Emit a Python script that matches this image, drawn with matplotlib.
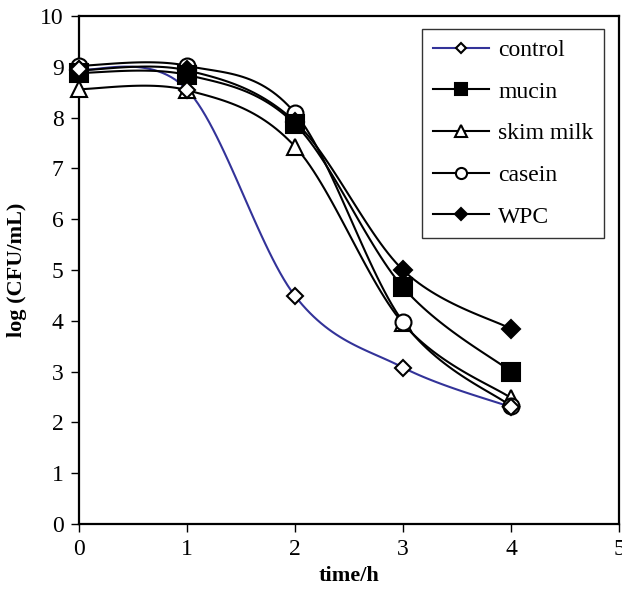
import matplotlib
matplotlib.use("Agg")
import matplotlib.pyplot as plt
import numpy as np

plt.rcParams["font.family"] = ["Liberation Serif", "DejaVu Serif"]

time_h = [0, 1, 2, 3, 4]
control = [8.95, 8.55, 4.49, 3.08, 2.3]
mucin = [8.88, 8.84, 7.87, 4.66, 3.0]
skim_milk = [8.56, 8.54, 7.43, 3.95, 2.48]
casein = [9.02, 9.02, 8.09, 3.98, 2.32]
wpc = [8.93, 8.93, 7.92, 5.0, 3.84]


def smooth(x, y, n=30):
    # Excel-style smoothed line (Catmull-Rom Bezier through the points)
    x = np.asarray(x, float)
    y = np.asarray(y, float)
    px = np.concatenate([[x[0]], x, [x[-1]]])
    py = np.concatenate([[y[0]], y, [y[-1]]])
    xs, ys = [], []
    t = np.linspace(0, 1, n)
    for i in range(1, len(px) - 2):
        p0 = np.array([px[i], py[i]])
        p3 = np.array([px[i + 1], py[i + 1]])
        p1 = p0 + (np.array([px[i + 1], py[i + 1]]) - np.array([px[i - 1], py[i - 1]])) / 6
        p2 = p3 - (np.array([px[i + 2], py[i + 2]]) - np.array([px[i], py[i]])) / 6
        b = ((1 - t) ** 3)[:, None] * p0 + (3 * (1 - t) ** 2 * t)[:, None] * p1 \
            + (3 * (1 - t) * t ** 2)[:, None] * p2 + (t ** 3)[:, None] * p3
        xs.extend(b[:, 0])
        ys.extend(b[:, 1])
    return xs, ys


fig = plt.figure(figsize=(6.22, 5.94), dpi=100)
ax = fig.add_axes([79 / 622, 70 / 594, 540 / 622, 508 / 594])

# name, values, line colour, marker, face, size, legend size, zorder
series = [
    ("control", control, "#333399", "D", "white", 8, 5.5, 7),
    ("mucin", mucin, "black", "s", "black", 12.5, 8, 5),
    ("skim milk", skim_milk, "black", "^", "white", 12, 8, 3),
    ("casein", casein, "black", "o", "white", 11.5, 8, 4),
    ("WPC", wpc, "black", "D", "black", 9, 6, 6),
]

handles = []
for name, vals, col, mk, fc, ms, lms, z in series:
    sx, sy = smooth(time_h, vals)
    ax.plot(sx, sy, color=col, lw=1.5, zorder=2)
    ax.plot(time_h, vals, ls="none", marker=mk, ms=ms, mfc=fc, mec="black",
            mew=1.5, zorder=z, clip_on=False)
    h, = ax.plot([], [], color=col, lw=1.5, marker=mk, ms=lms, mfc=fc,
                 mec="black", mew=1.5, label=name)
    handles.append(h)

leg = fig.legend(handles=handles, loc="upper left",
                 bbox_to_anchor=(422 / 622, 1 - 29 / 594),
                 frameon=True, fancybox=False, edgecolor="black", fontsize=17,
                 handlelength=2.4, labelspacing=0.85, borderpad=0.45,
                 handletextpad=0.38, borderaxespad=0)
leg.get_frame().set_linewidth(1.0)

ax.set_xlim(0, 5)
ax.set_ylim(0, 10)
ax.set_xticks(range(0, 6))
ax.set_yticks(range(0, 11))
ax.tick_params(direction="out", length=6, width=1.0, labelsize=17, pad=5)
for sp in ax.spines.values():
    sp.set_linewidth(1.6)

ax.set_xlabel("time/h", fontsize=16, fontweight="bold")
ax.set_ylabel("log (CFU/mL)", fontsize=16, fontweight="bold")
ax.xaxis.set_label_coords(0.5, -0.083)
ax.yaxis.set_label_coords(-0.097, 0.5)

fig.savefig("out.png", dpi=100)
